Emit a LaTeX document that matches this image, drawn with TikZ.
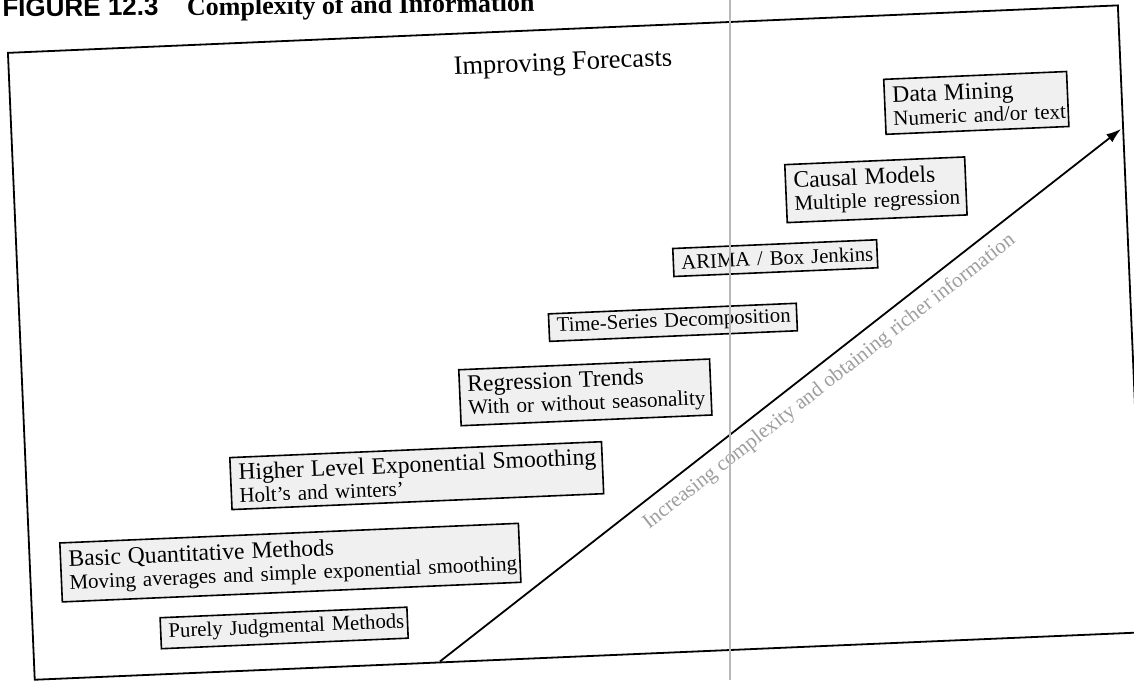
\documentclass[tikz,border=0pt]{standalone}
\usepackage{fontspec}
\setmainfont{Liberation Serif}
\newfontfamily\figsans{Liberation Sans}
\usetikzlibrary{arrows.meta}
\newcommand{\hfnt}{\fontsize{23.6}{23}\selectfont}
\newcommand{\sfnt}{\fontsize{21}{23}\selectfont}
\newcommand{\onefnt}{\fontsize{20.7}{23}\selectfont}
\newcommand{\twoline}[2]{\mbox{\hfnt #1}\\\mbox{\sfnt #2}}
\newcommand{\oneline}[1]{\mbox{#1}}
\begin{document}
\begin{tikzpicture}[x=1pt,y=1pt,
  stagebox/.style={draw=black, line width=1.6pt, fill=black!6, anchor=north west,
     align=left, inner xsep=8pt, inner ysep=2pt, font=\sfnt},
  onebox/.style={stagebox, font=\onefnt},
  frameline/.style={draw=black, line width=1.8pt},
  scanline/.style={line width=2.5pt, black!28},
  ]
\useasboundingbox (0,0) rectangle (1134,680);
\fill[white] (0,0) rectangle (1134,680);
\clip (0,0) rectangle (1134,680);
% header of the page (slightly less tilted than the frame)
\node[anchor=base west, inner sep=0pt, rotate=0.7, font=\figsans\bfseries\fontsize{26}{28}\selectfont] (fignum) at (2.4,663) {FIGURE 12.3};
\node[anchor=base west, inner sep=0pt, rotate=0.7, font=\bfseries\fontsize{26}{28}\selectfont] (figtitle) at (187,664.3) {Complexity of and Information};
\begin{scope}[shift={(7,628)}, rotate=2.45, transform shape]
  % frame
  \node[frameline, anchor=north west, minimum width=1111pt, minimum height=627.5pt, inner sep=0pt] (frame) at (0,0) {};
  \node[anchor=base, inner sep=0pt, font=\fontsize{26.5}{28}\selectfont] (title) at (555,-42) {Improving Forecasts};
  % boxes
  \node[stagebox, text width=167pt, minimum height=55pt] (dm) at (874,-64) {\twoline{Data Mining}{Numeric and/or text}};
  \node[stagebox, text width=164pt, minimum height=58pt] (causal) at (771.5,-145) {\twoline{Causal Models}{Multiple regression}};
  \node[onebox, text width=188pt, minimum height=28pt] (arima) at (656,-224) {\oneline{ARIMA / Box Jenkins}};
  \node[onebox, text width=232pt, minimum height=27.5pt] (tsd) at (529,-284) {\oneline{Time-Series Decomposition}};
  \node[stagebox, text width=235pt, minimum height=56pt] (regr) at (437,-336) {\twoline{Regression Trends}{With or without seasonality}};
  \node[stagebox, text width=356pt, minimum height=52pt] (higher) at (204.5,-414) {\twoline{Higher Level Exponential Smoothing}{Holt's and winters'}};
  \node[stagebox, text width=443pt, minimum height=59pt] (basic) at (31,-492) {\twoline{Basic Quantitative Methods}{Moving averages and simple exponential smoothing}};
  \node[onebox, text width=231pt, minimum height=31pt] (purely) at (128,-571) {\oneline{Purely Judgmental Methods}};
  % arrow
  \coordinate (astart) at (406.5,-627.5);
  \coordinate (atip) at (1110,-124.5);
  \draw[line width=1.8pt, -{Latex[length=15pt,width=10pt]}] (astart) -- node[pos=0.554, rotate=35.6, anchor=north, inner sep=9pt, text=black!38, font=\sfnt] (arrowlabel) {Increasing complexity and obtaining richer information} (atip);
\end{scope}
% scanner fold line
\coordinate (scantop) at (730,680);
\coordinate (scanbot) at (730,0);
\draw[scanline] (scantop) -- (scanbot);
\end{tikzpicture}
\end{document}
